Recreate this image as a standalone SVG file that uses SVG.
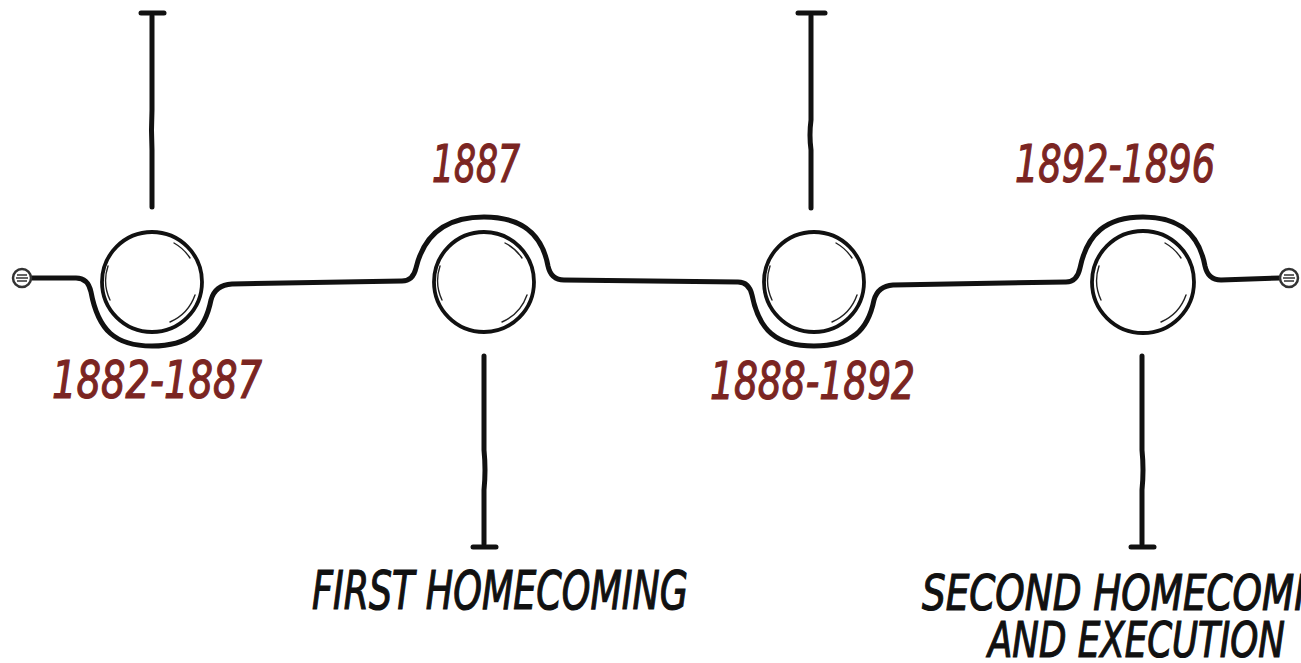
<svg xmlns="http://www.w3.org/2000/svg" width="1301" height="663" viewBox="0 0 1301 663">
<style>
.ln{fill:none;stroke:#111;stroke-width:5;stroke-linecap:round;stroke-linejoin:round}
.cap{fill:none;stroke:#111;stroke-width:5;stroke-linecap:round}
.ring{fill:#fff;stroke:#111;stroke-width:3.8}
.sk{fill:none;stroke:#222;stroke-width:1.4;stroke-linecap:round}
.end{fill:#fff;stroke:#333;stroke-width:2.5}
.endl{stroke:#333;stroke-width:1.6}
.yr{font-family:"Liberation Sans Narrow","DejaVu Sans Condensed","Liberation Sans",sans-serif;font-style:italic;fill:#7b2522;stroke:#7b2522;stroke-width:1.2;font-size:52px}
.lb{font-family:"Liberation Sans Narrow","DejaVu Sans Condensed","Liberation Sans",sans-serif;font-style:italic;fill:#111;stroke:#111;stroke-width:1.2;font-size:54px}
.lb2{font-size:50px}
</style>
<g id="connectors">
<path class="ln" d="M 30 278 L 76 278 Q 88 278 91 292 C 98 330 115 346 152 346 C 190 346 205 330 211 300 Q 215 285 232 284 L 402 281 Q 413 281 416 268 C 424 234 446 217 484 217 C 522 217 542 234 548 266 Q 551 280 564 280 L 738 282 Q 749 282 752 295 C 759 330 776 346 814 346 C 852 346 868 330 874 300 Q 878 286 893 285 L 1066 282 Q 1077 282 1080 268 C 1087 234 1106 217 1143 217 C 1180 217 1199 234 1205 266 Q 1208 280 1221 280 L 1280 278"/>
<path class="ln" d="M 152 16 L 152 110 Q 151 130 152 150 L 152 207"/>
<path class="cap" d="M 141 13 L 164 13"/>
<path class="ln" d="M 811 16 L 811 120 Q 809 135 811 150 L 811 208"/>
<path class="cap" d="M 798 13 L 825 13"/>
<path class="ln" d="M 484 356 L 484 450 Q 486 470 484 490 L 484 544"/>
<path class="cap" d="M 473 547 L 496 547"/>
<path class="ln" d="M 1142 356 L 1142 450 Q 1144 470 1142 490 L 1142 544"/>
<path class="cap" d="M 1131 547 L 1154 547"/>
</g>
<g id="start">
<circle class="end" cx="22" cy="278" r="9"/>
<path class="endl" d="M 17 275 L 27 275 M 16 278 L 28 278 M 17 281 L 27 281"/>
</g>
<g id="end">
<circle class="end" cx="1289" cy="278" r="9"/>
<path class="endl" d="M 1284 275 L 1294 275 M 1283 278 L 1295 278 M 1284 281 L 1294 281"/>
</g>
<g id="node1">
<circle class="ring" cx="152" cy="282" r="50"/>
<path class="sk" d="M 174 243 A 46 46 0 0 1 190 258 M 108 266 A 46 46 0 0 0 110 300 M 170 322 A 46 46 0 0 0 195 295"/>
<text class="yr" x="52" y="398" textLength="210" lengthAdjust="spacingAndGlyphs">1882-1887</text>
</g>
<g id="node2">
<circle class="ring" cx="484" cy="282" r="50"/>
<path class="sk" d="M 505 243 A 46 46 0 0 1 522 258 M 440 266 A 46 46 0 0 0 442 300 M 502 322 A 46 46 0 0 0 527 295"/>
<text class="yr" x="432" y="182" textLength="88" lengthAdjust="spacingAndGlyphs">1887</text>
<text class="lb" x="312" y="609" textLength="376" lengthAdjust="spacingAndGlyphs">FIRST HOMECOMING</text>
</g>
<g id="node3">
<circle class="ring" cx="814" cy="282" r="50"/>
<path class="sk" d="M 836 243 A 46 46 0 0 1 852 258 M 770 266 A 46 46 0 0 0 772 300 M 832 322 A 46 46 0 0 0 857 295"/>
<text class="yr" x="710" y="399" textLength="205" lengthAdjust="spacingAndGlyphs">1888-1892</text>
</g>
<g id="node4">
<circle class="ring" cx="1143" cy="282" r="51"/>
<path class="sk" d="M 1165 243 A 46 46 0 0 1 1181 258 M 1099 266 A 46 46 0 0 0 1101 300 M 1161 322 A 46 46 0 0 0 1186 295"/>
<text class="yr" x="1015" y="182" textLength="200" lengthAdjust="spacingAndGlyphs">1892-1896</text>
<text class="lb lb2" x="922" y="610" textLength="440" lengthAdjust="spacingAndGlyphs">SECOND HOMECOMING</text>
<text class="lb lb2" x="988" y="657" textLength="297" lengthAdjust="spacingAndGlyphs">AND EXECUTION</text>
</g>
</svg>
